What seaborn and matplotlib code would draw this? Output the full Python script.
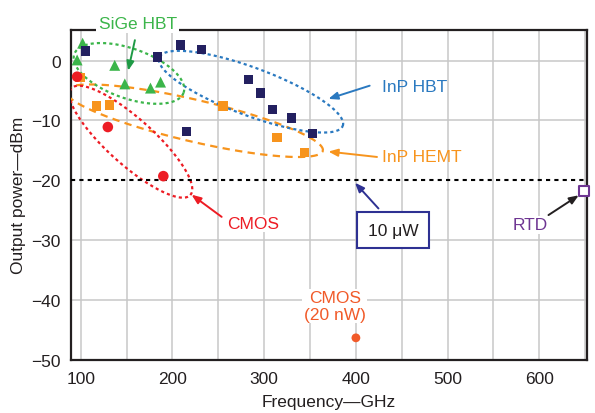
import numpy as np
import pandas as pd
import matplotlib
matplotlib.use("Agg")
import matplotlib.pyplot as plt
import seaborn as sns

# ---------------- data ----------------
sige_freq = [102, 96, 137, 148, 176, 187]
sige_pow = [2.9, 0.1, -0.8, -3.9, -4.6, -3.6]

inp_hbt_freq = [105, 184, 209, 232, 283, 296, 309, 330, 353, 215]
inp_hbt_pow = [1.6, 0.6, 2.6, 1.8, -3.2, -5.4, -8.2, -9.6, -12.2, -11.8]

inp_hemt_freq = [99, 117, 131, 255, 314, 344]
inp_hemt_pow = [-2.8, -7.6, -7.4, -7.6, -12.8, -15.4]

cmos_freq = [96, 129.5, 190]
cmos_pow = [-2.7, -11.1, -19.3]

cmos20_freq = [400]
cmos20_pow = [-46.3]

rtd_freq = [649]
rtd_pow = [-21.8]

x_ticks = [100, 200, 300, 400, 500, 600]
y_ticks = [0, -10, -20, -30, -40, -50]
ref_level = -20  # 10 uW

# ---------------- style ----------------
sns.set_style("white")
plt.rcParams["font.family"] = ["Liberation Sans", "DejaVu Sans"]

C_GREEN = "#3BB54A"
C_GREEN_D = "#1E9A45"
C_NAVY = "#232060"
C_BLUE = "#2A79C0"
C_ORANGE = "#F7941D"
C_RED = "#ED1C24"
C_RED2 = "#F15A29"
C_PURPLE = "#6E3592"
C_BOXNAVY = "#2E3192"
FS = 12.5

fig = plt.figure(figsize=(5.95, 4.14), dpi=100)
ax = fig.add_axes([70.7 / 595, 1 - 361 / 414, (587 - 70.7) / 595, (361 - 30.7) / 414])
ax.set_xlim(89, 652)
ax.set_ylim(-49.8, 5.15)

def scat(fx, py, marker, color, s, **kw):
    df = pd.DataFrame({"f": fx, "p": py})
    sns.scatterplot(data=df, x="f", y="p", marker=marker, color=color, s=s,
                    edgecolor="none", linewidth=0, ax=ax, zorder=5, legend=False, **kw)

# ---------------- ellipses (drawn in display space) ----------------
def ellipse(cx, cy, a_px, b_px, ang, **kw):
    t = np.linspace(0, 2 * np.pi, 400)
    th = np.radians(ang)
    c = ax.transData.transform((cx, cy))
    xs = a_px * np.cos(t) * np.cos(th) - b_px * np.sin(t) * np.sin(th)
    ys = a_px * np.cos(t) * np.sin(th) + b_px * np.sin(t) * np.cos(th)
    pts = ax.transData.inverted().transform(np.c_[xs + c[0], ys + c[1]])
    ax.plot(pts[:, 0], pts[:, 1], **kw)

dot = (0, (1.4, 1.4))
ellipse(223.8, -10.05, 132, 21, -13.2, color=C_ORANGE, lw=1.6, ls=(0, (3.3, 2.4)), zorder=3)
ellipse(285.6, -5.2, 98, 24, -20.5, color=C_BLUE, lw=1.6, ls=dot, zorder=3)
ellipse(152.5, -2.15, 58, 25, -19.5, color=C_GREEN, lw=1.6, ls=dot, zorder=3)
ellipse(154.6, -13.55, 80, 23, -42, color=C_RED, lw=1.6, ls=dot, zorder=3)

# ---------------- points ----------------
scat(sige_freq, sige_pow, "^", C_GREEN, 62)
scat(inp_hemt_freq, inp_hemt_pow, "s", C_ORANGE, 45)
scat(inp_hbt_freq, inp_hbt_pow, "s", C_NAVY, 45)
scat(cmos_freq, cmos_pow, "o", C_RED, 58)
scat(cmos20_freq, cmos20_pow, "o", C_RED2, 40)
sns.scatterplot(x=rtd_freq, y=rtd_pow, marker="s", s=55, facecolor="white",
                edgecolor=C_PURPLE, linewidth=1.5, ax=ax, zorder=6, clip_on=False, legend=False)

# reference line
ax.axhline(ref_level, color="black", lw=1.5, ls=(0, (2, 2)), zorder=4)

# ---------------- axes ----------------
ax.set_xticks(x_ticks)
ax.set_xticks([150, 250, 350, 450, 550, 650], minor=True)
ax.set_yticks(y_ticks)
ax.grid(True, which="both", axis="x", color="#C8C8C8", lw=1.1, zorder=0)
ax.grid(True, which="major", axis="y", color="#C8C8C8", lw=1.1, zorder=0)
ax.set_axisbelow(True)
for val, gl in zip(y_ticks, ax.yaxis.get_gridlines()):
    if val == ref_level:
        gl.set_visible(False)
ax.tick_params(axis="both", which="both", length=0, labelsize=FS, colors="#231F20")
ax.tick_params(axis="x", pad=8)
ax.tick_params(axis="y", pad=7)
for sp in ax.spines.values():
    sp.set_visible(True)
    sp.set_color("#231F20")
    sp.set_linewidth(1.6)
ax.set_xlabel("Frequency\u2014GHz", fontsize=FS, color="#231F20", labelpad=6)
ax.set_ylabel("Output power\u2014dBm", fontsize=FS, color="#231F20", labelpad=4)

# ---------------- annotations ----------------
def arrow(x0, y0, x1, y1, color):
    ax.annotate("", xy=(x1, y1), xytext=(x0, y0),
                arrowprops=dict(arrowstyle="-|>,head_length=0.55,head_width=0.22",
                                color=color, lw=1.4, shrinkA=0, shrinkB=0), zorder=7)

ax.text(162, 6.25, "SiGe HBT", color=C_GREEN, fontsize=FS, ha="center", va="center",
        bbox=dict(facecolor="white", edgecolor="none", pad=1.5), clip_on=False, zorder=10)
arrow(159, 3.4, 151.6, -1.7, C_GREEN_D)

ax.text(428, -4.4, "InP HBT", color=C_BLUE, fontsize=FS, ha="left", va="center", zorder=8)
arrow(415, -4.2, 370, -6.4, C_BLUE)

ax.text(428, -16.1, "InP HEMT", color=C_ORANGE, fontsize=FS, ha="left", va="center", zorder=8)
arrow(423, -16.1, 370, -15.2, C_ORANGE)

ax.text(259.7, -27.2, "CMOS", color=C_RED, fontsize=FS, ha="left", va="center",
        bbox=dict(facecolor="white", edgecolor="none", pad=1), zorder=8)
arrow(253.6, -26.1, 220.8, -22.4, C_RED)

ax.text(440.4, -28.3, "10 \u03bcW", color="#231F20", fontsize=FS, ha="center", va="center",
        bbox=dict(boxstyle="square,pad=0.6", facecolor="white", edgecolor=C_BOXNAVY, lw=1.5), zorder=8)
arrow(424.6, -24.7, 399, -20.4, C_BOXNAVY)

ax.text(590, -27.4, "RTD", color=C_PURPLE, fontsize=FS, ha="center", va="center",
        bbox=dict(facecolor="white", edgecolor="none", pad=1), zorder=8)
arrow(610, -25.8, 643, -22.5, "#231F20")

ax.text(377, -41.0, "CMOS\n(20 nW)", color=C_RED2, fontsize=FS, ha="center", va="center",
        linespacing=1.15, bbox=dict(facecolor="white", edgecolor="none", pad=1), zorder=8)

fig.savefig("out.png", dpi=100)
